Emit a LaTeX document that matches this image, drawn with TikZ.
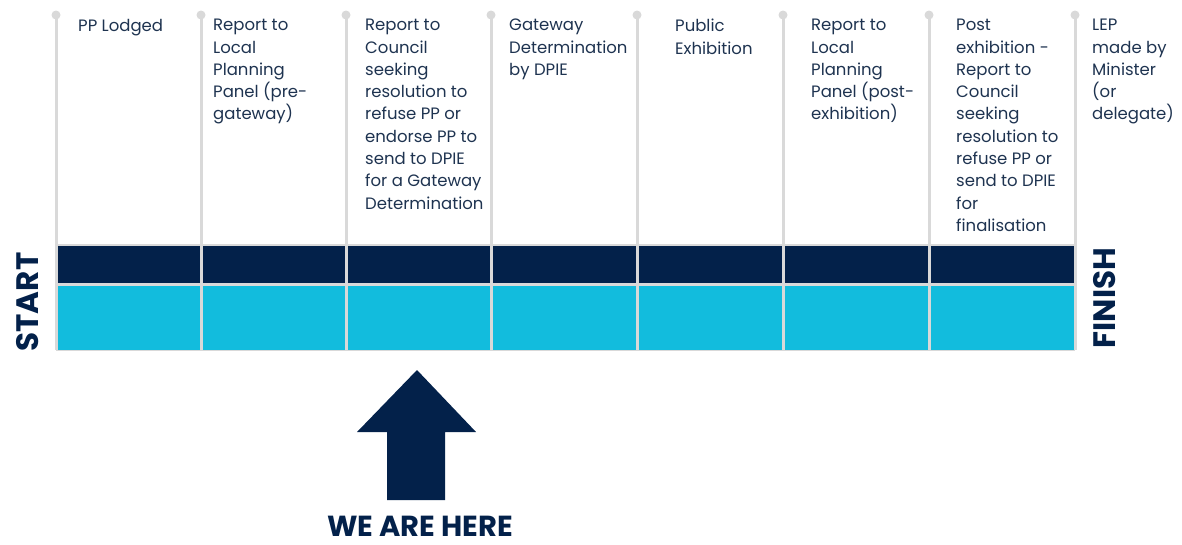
\documentclass[tikz,border=0pt]{standalone}
\usepackage{fontspec}
\setmainfont{Poppins}
\definecolor{navy}{HTML}{03214A}
\definecolor{cyanbar}{HTML}{12BCDD}
\definecolor{rule}{HTML}{D9D9D9}
\definecolor{txt}{HTML}{1E3350}
\begin{document}
\begin{tikzpicture}[x=1pt,y=-1pt,
  lbl/.style={anchor=north west,inner sep=0pt,align=left,text=txt,font=\fontsize{16.5}{22.3}\selectfont},
  dot/.style={circle,fill=rule,inner sep=0pt,minimum size=9pt},
  vline/.style={draw=rule,line width=3pt},
  big/.style={text=navy,font=\fontsize{31}{32}\selectfont\bfseries,inner sep=0pt}]
\useasboundingbox (0,0) rectangle (1182,544);
% bars
\fill[rule] (56,244) rectangle (1075,351);
\node[fill=navy,minimum width=1019pt,minimum height=37pt,inner sep=0pt,anchor=north west] (dark) at (56,246) {};
\node[fill=cyanbar,minimum width=1019pt,minimum height=64pt,inner sep=0pt,anchor=north west] (cyanb) at (56,286) {};
% vertical lines with dots
\foreach \i/\x in {1/56,2/201,3/346,4/491,5/637,6/783,7/929,8/1075}{
  \node[dot] (d\i) at (\x,15) {};
  \coordinate (b\i) at (\x,350);
  \draw[vline] (d\i.center) -- (b\i);
}
% labels
\node[lbl] (t1) at (78,19) {PP Lodged};
\node[lbl] (t2) at (213,19) {Report to\\Local\\Planning\\Panel (pre-\\gateway)};
\node[lbl] (t3) at (365,19) {Report to\\Council\\seeking\\resolution to\\refuse PP or\\endorse PP to\\send to DPIE\\for a Gateway\\Determination};
\node[lbl] (t4) at (509,19) {Gateway\\Determination\\by DPIE};
\node[lbl] (t5) at (675,19) {Public\\Exhibition};
\node[lbl] (t6) at (811,19) {Report to\\Local\\Planning\\Panel (post-\\exhibition)};
\node[lbl] (t7) at (956,19) {Post\\exhibition -\\Report to\\Council\\seeking\\resolution to\\refuse PP or\\send to DPIE\\for\\finalisation};
\node[lbl] (t8) at (1092,19) {LEP\\made by\\Minister\\(or\\delegate)};
% START / FINISH
\node[big,rotate=90] (start) at (28,302) {START};
\node[big,rotate=90] (finish) at (1105,298) {FINISH};
% arrow
\fill[navy] (387,500) -- (387,432) -- (357,432) -- (417,370) -- (476,432) -- (445,432) -- (445,500) -- cycle;
\node[big,font=\fontsize{29}{30}\selectfont\bfseries,anchor=base,text depth=0pt,text height=21pt] (here) at (420,536) {WE ARE HERE};
\end{tikzpicture}
\end{document}
